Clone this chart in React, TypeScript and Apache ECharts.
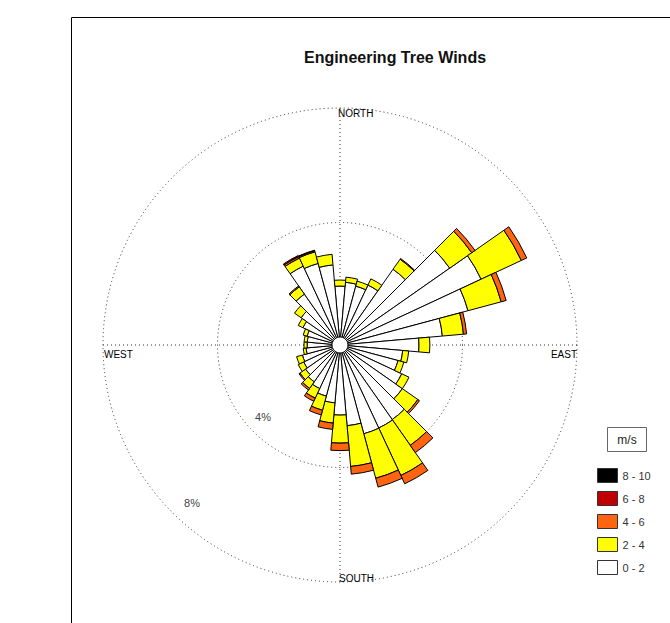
import React, { useEffect, useRef } from 'react';
import * as echarts from 'echarts';

// Wind direction bins (degrees, clockwise from north), 10° each
const DIRECTIONS = ['0', '10', '20', '30', '40', '50', '60', '70', '80', '90', '100', '110',
  '120', '130', '140', '150', '160', '170', '180', '190', '200', '210', '220', '230',
  '240', '250', '260', '270', '280', '290', '300', '310', '320', '330', '340', '350'];

// Speed classes (m/s) and their colours
const SPEED_BINS = ['0 - 2', '2 - 4', '4 - 6', '6 - 8', '8 - 10'];
const BIN_COLORS = ['#ffffff', '#ffff00', '#ff6410', '#c00000', '#000000'];

// Frequency (%) of each speed class per direction
const FREQ_0_2 = [1.78, 1.92, 1.85, 2.03, 2.95, 4.40, 5.16, 4.35, 3.31, 2.48, 1.92, 1.82,
  2.10, 2.38, 2.90, 2.92, 2.93, 2.55, 2.17, 1.75, 1.57, 1.40, 1.29, 1.19,
  1.12, 1.08, 0.91, 0.87, 0.87, 0.91, 1.15, 1.38, 1.89, 2.76, 2.67, 2.53];
const FREQ_2_4 = [0.21, 0.18, 0.18, 0.24, 0.43, 0.94, 1.55, 1.20, 0.74, 0.38, 0.21, 0.21,
  0.28, 0.66, 1.10, 1.83, 1.61, 1.43, 0.98, 0.71, 0.51, 0.37, 0.28, 0.24,
  0.21, 0.21, 0.10, 0.11, 0.11, 0.14, 0.18, 0.28, 0.31, 0.31, 0.42, 0.37];
const FREQ_4_6 = [0, 0, 0, 0, 0.03, 0.14, 0.21, 0.18, 0.11, 0, 0, 0,
  0, 0.07, 0.31, 0.32, 0.32, 0.27, 0.26, 0.22, 0.17, 0.12, 0.07, 0.04,
  0, 0, 0, 0, 0, 0, 0, 0, 0.04, 0.06, 0.04, 0];
const FREQ_6_8 = [0, 0, 0, 0, 0, 0, 0, 0, 0, 0, 0, 0,
  0, 0, 0, 0, 0, 0, 0, 0, 0, 0, 0, 0,
  0, 0, 0, 0, 0, 0, 0, 0, 0, 0.04, 0.02, 0];
const FREQ_8_10 = [0, 0, 0, 0, 0, 0, 0, 0, 0, 0, 0, 0,
  0, 0, 0, 0, 0, 0, 0, 0, 0, 0, 0, 0,
  0, 0, 0, 0, 0, 0, 0, 0, 0, 0, 0, 0];
const FREQS = [FREQ_0_2, FREQ_2_4, FREQ_4_6, FREQ_6_8, FREQ_8_10];

// Radius axis (percent) range and ring labels
const RADIUS_MAX = 8;
const RING_INTERVAL = 4;
const RING_LABELS = ['4%', '8%'];
const COMPASS_LABELS = ['NORTH', 'EAST', 'SOUTH', 'WEST'];
const TITLE = 'Engineering Tree Winds';
const LEGEND_TITLE = 'm/s';

const FONT = '"Liberation Sans", Arial, Helvetica, sans-serif';

export default function App() {
  const ref = useRef<HTMLDivElement>(null);

  useEffect(() => {
    if (!ref.current) return;
    const chart = echarts.init(ref.current, null, { renderer: 'svg' });
    const center = [340, 345];
    const radius = [8, 237];

    const option: any = {
      animation: false,
      backgroundColor: '#ffffff',
      title: {
        text: TITLE,
        left: 395,
        top: 49,
        padding: 0,
        textAlign: 'center',
        textStyle: { fontFamily: FONT, fontSize: 16, fontWeight: 'bold', color: '#111' },
      },
      polar: [
        { center, radius },
        { center, radius },
      ],
      angleAxis: [
        {
          polarIndex: 0, type: 'category', data: DIRECTIONS, startAngle: 95, clockwise: true,
          boundaryGap: true,
          axisLine: { show: false }, axisTick: { show: false }, axisLabel: { show: false },
          splitLine: { show: false }, splitArea: { show: false },
        },
        {
          polarIndex: 1, type: 'value', min: 0, max: 360, interval: 90, startAngle: 90,
          axisLine: { show: false }, axisTick: { show: false }, axisLabel: { show: false },
          splitLine: { show: true, lineStyle: { type: [1, 3], color: '#333', width: 1 } },
        },
      ],
      radiusAxis: [
        { polarIndex: 0, type: 'value', min: 0, max: RADIUS_MAX, show: false },
        {
          polarIndex: 1, type: 'value', min: 0, max: RADIUS_MAX, interval: RING_INTERVAL,
          axisLine: { show: false }, axisTick: { show: false }, axisLabel: { show: false },
          splitLine: { show: true, lineStyle: { type: [1, 3], color: '#333', width: 1 } },
        },
      ],
      legend: {
        orient: 'vertical',
        left: 597,
        top: 468,
        padding: 0,
        itemWidth: 20,
        itemHeight: 14,
        itemGap: 8,
        selectedMode: false,
        data: [...SPEED_BINS].reverse(),
        icon: 'rect',
        itemStyle: { borderColor: '#333', borderWidth: 1 },
        textStyle: { fontFamily: FONT, fontSize: 11, color: '#333' },
      },
      series: SPEED_BINS.map((name, i) => ({
        type: 'bar',
        name,
        coordinateSystem: 'polar',
        polarIndex: 0,
        stack: 'wind',
        barCategoryGap: '0%',
        data: FREQS[i].map((v) => (v > 0 ? v : '-')),
        itemStyle: { color: BIN_COLORS[i], borderColor: '#000', borderWidth: 1 },
        emphasis: { disabled: true },
      })),
      graphic: [
        {
          type: 'rect', z: -10, silent: true,
          shape: { x: 71.5, y: 17.5, width: 700, height: 700 },
          style: { fill: 'none', stroke: '#000', lineWidth: 1 },
        },
        { type: 'text', x: 338, y: 113, style: { text: COMPASS_LABELS[0], fill: '#000', font: `10px ${FONT}`, align: 'left', verticalAlign: 'middle' } },
        { type: 'text', x: 577, y: 354, style: { text: COMPASS_LABELS[1], fill: '#000', font: `10px ${FONT}`, align: 'right', verticalAlign: 'middle' } },
        { type: 'text', x: 339, y: 578, style: { text: COMPASS_LABELS[2], fill: '#000', font: `10px ${FONT}`, align: 'left', verticalAlign: 'middle' } },
        { type: 'text', x: 104, y: 354, style: { text: COMPASS_LABELS[3], fill: '#000', font: `10px ${FONT}`, align: 'left', verticalAlign: 'middle' } },
        { type: 'text', x: 263, y: 417, style: { text: RING_LABELS[0], fill: '#444', font: `11px ${FONT}`, align: 'center', verticalAlign: 'middle' } },
        { type: 'text', x: 192, y: 503, style: { text: RING_LABELS[1], fill: '#444', font: `11px ${FONT}`, align: 'center', verticalAlign: 'middle' } },
        {
          type: 'rect', shape: { x: 607.5, y: 427.5, width: 39, height: 24 },
          style: { fill: '#fff', stroke: '#666', lineWidth: 1 },
        },
        { type: 'text', x: 627, y: 440, style: { text: LEGEND_TITLE, fill: '#222', font: `12px ${FONT}`, align: 'center', verticalAlign: 'middle' } },
      ],
    };

    chart.setOption(option);
    return () => chart.dispose();
  }, []);

  return (
    <div
      ref={ref}
      style={{ position: 'absolute', left: 0, top: 0, width: 670, height: 623, background: '#fff' }}
    />
  );
}
